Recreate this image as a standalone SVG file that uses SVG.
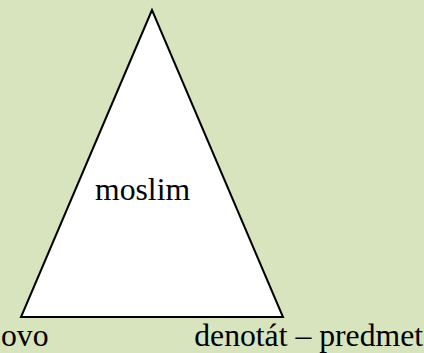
<svg xmlns="http://www.w3.org/2000/svg" width="424" height="353" viewBox="0 0 424 353">
<style>
.t{font-family:"Liberation Serif","Times New Roman",serif;font-size:31.7px;fill:#000}
</style>
<rect width="424" height="353" fill="#d7e4bd"/>
<g id="triangle">
<polygon points="152,10 21,317 283,317" fill="#fff" stroke="#000" stroke-width="2" stroke-linejoin="miter"/>
<text class="t" x="95" y="200">moslim</text>
</g>
<g id="slovo"><text class="t" x="1" y="346">ovo</text></g>
<g id="denotat"><text class="t" x="423" y="346" text-anchor="end">denotát – predmet</text></g>
<g id="connectors"/>
</svg>
